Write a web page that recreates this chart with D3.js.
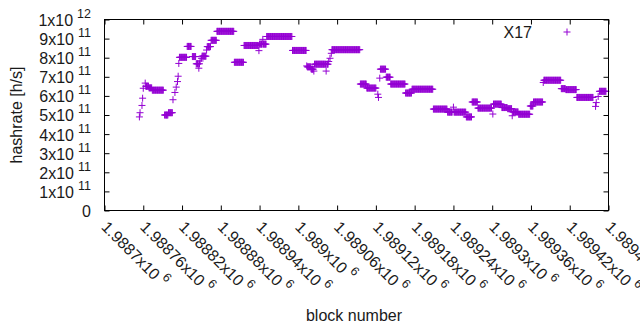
<!DOCTYPE html>
<html lang="en">
<head>
  <title>hashrate X17</title>
  <script src="https://d3js.org/d3.v7.min.js" charset="utf-8"></script>
  <style>
  body { margin: 0; background: #fff; }
  text {
      font-family: "Liberation Sans", Arial, sans-serif;
      font-size: 16px;
      fill: #1a1a1a;
  }
  </style>
</head>
<body>
  <script>
    // runs of blocks with the same hashrate (block numbers, h/s)
    var blockFrom = [1988754, 1988755, 1988758, 1988759, 1988760, 1988763, 1988764, 1988769, 1988774,
      1988793, 1988799, 1988806, 1988809, 1988811, 1988813, 1988814, 1988815, 1988816, 1988828,
      1988836, 1988842, 1988846, 1988847, 1988848, 1988850, 1988851, 1988858, 1988859, 1988865,
      1988874, 1988901, 1988916, 1988939, 1988940, 1988945, 1988946, 1988951, 1988991, 1989013,
      1989014, 1989020, 1989024, 1989025, 1989043, 1989044, 1989047, 1989049, 1989051, 1989052,
      1989096, 1989106, 1989123, 1989124, 1989126, 1989127, 1989136, 1989143, 1989166, 1989176,
      1989209, 1989231, 1989240, 1989241, 1989260, 1989269, 1989278, 1989301, 1989302, 1989315,
      1989324, 1989331, 1989332, 1989341, 1989359, 1989364, 1989379, 1989380, 1989407, 1989414,
      1989431, 1989460, 1989461, 1989464, 1989466];
    var blockTo = [1988754, 1988755, 1988758, 1988759, 1988760, 1988763, 1988768, 1988773, 1988791,
      1988798, 1988805, 1988806, 1988809, 1988811, 1988813, 1988814, 1988815, 1988827, 1988834,
      1988841, 1988845, 1988846, 1988847, 1988848, 1988850, 1988857, 1988858, 1988864, 1988873,
      1988900, 1988915, 1988938, 1988939, 1988944, 1988945, 1988950, 1988990, 1989012, 1989013,
      1989019, 1989023, 1989024, 1989042, 1989043, 1989046, 1989047, 1989049, 1989051, 1989095,
      1989105, 1989120, 1989123, 1989124, 1989126, 1989135, 1989142, 1989165, 1989175, 1989208,
      1989230, 1989238, 1989240, 1989259, 1989268, 1989277, 1989299, 1989301, 1989314, 1989323,
      1989330, 1989331, 1989340, 1989358, 1989363, 1989378, 1989379, 1989406, 1989413, 1989430,
      1989456, 1989460, 1989461, 1989464, 1989476];
    var hashrate = [4.90e11, 5.12e11, 5.50e11, 5.88e11, 6.40e11, 6.67e11, 6.50e11, 6.42e11, 6.30e11,
      5.00e11, 5.12e11, 5.80e11, 6.18e11, 6.46e11, 6.75e11, 7.03e11, 7.70e11, 8.02e11, 8.59e11,
      8.06e11, 7.68e11, 7.45e11, 7.68e11, 7.83e11, 7.97e11, 8.08e11, 8.40e11, 8.58e11, 8.91e11,
      9.38e11, 7.76e11, 8.64e11, 8.37e11, 8.71e11, 8.96e11, 8.71e11, 9.11e11, 8.38e11, 7.57e11,
      7.52e11, 7.40e11, 7.30e11, 7.66e11, 7.30e11, 7.66e11, 7.80e11, 7.97e11, 8.23e11, 8.42e11,
      6.62e11, 6.41e11, 6.09e11, 5.92e11, 6.93e11, 7.40e11, 6.98e11, 6.62e11, 6.15e11, 6.35e11,
      5.31e11, 5.15e11, 5.41e11, 5.15e11, 4.90e11, 5.68e11, 5.36e11, 5.05e11, 5.57e11, 5.39e11,
      5.33e11, 4.96e11, 5.16e11, 5.04e11, 5.47e11, 5.68e11, 6.70e11, 6.82e11, 6.38e11, 6.33e11,
      5.92e11, 5.45e11, 5.65e11, 5.97e11, 6.24e11];

    var xTicks = [1988700, 1988760, 1988820, 1988880, 1988940, 1989000, 1989060,
      1989120, 1989180, 1989240, 1989300, 1989360, 1989420, 1989480];
    var xTickLabels = ["1.9887", "1.98876", "1.98882", "1.98888", "1.98894", "1.989", "1.98906",
      "1.98912", "1.98918", "1.98924", "1.9893", "1.98936", "1.98942", "1.98948"];
    var yTicks = [0, 1e11, 2e11, 3e11, 4e11, 5e11, 6e11, 7e11, 8e11, 9e11, 1e12];
    var yTickMant = ["0", "1", "2", "3", "4", "5", "6", "7", "8", "9", "1"];
    var yTickExp = ["", "11", "11", "11", "11", "11", "11", "11", "11", "11", "12"];
    var seriesName = "X17";

    // one point per block
    var points = [];
    for (var r = 0; r < blockFrom.length; r++) {
      for (var b = blockFrom[r]; b <= blockTo[r]; b++) {
        points.push({ block: b, rate: hashrate[r] });
      }
    }

    var w = 640, h = 330;
    var plotL = 104.5, plotR = 608.5, plotT = 19.5, plotB = 210.5;
    var purple = "#9400d3";
    var cross = "M-3.5,0H3.5M0,-3.5V3.5";

    var x = d3.scaleLinear().domain([1988700, 1989480]).range([plotL, plotR]);
    var y = d3.scaleLinear().domain([0, 1e12]).range([plotB, plotT]);

    var svg = d3.select("body").append("svg")
      .attr("width", w)
      .attr("height", h);

    // points
    svg.append("g").selectAll("path")
      .data(points)
      .enter()
      .append("path")
      .attr("d", cross)
      .attr("transform", function(d) { return "translate(" + x(d.block) + "," + y(d.rate) + ")"; })
      .attr("stroke", purple)
      .attr("stroke-width", 1)
      .attr("fill", "none");

    // y axis + mirrored ticks
    var yAxis = svg.append("g")
      .attr("transform", "translate(" + plotL + ",0)")
      .call(d3.axisLeft(y).tickValues(yTicks).tickSize(-5).tickSizeOuter(0).tickPadding(13.5));
    svg.append("g")
      .attr("transform", "translate(" + plotR + ",0)")
      .call(d3.axisRight(y).tickValues(yTicks).tickSize(-5).tickSizeOuter(0).tickFormat(""));

    yAxis.selectAll(".tick text").each(function(d, i) {
      var t = d3.select(this).text(yTickMant[i]).attr("dy", "0.37em");
      if (yTickExp[i]) {
        t.append("tspan").text("x10");
        t.append("tspan").attr("dx", 4).attr("dy", -8).style("font-size", "12.5px").text(yTickExp[i]);
      }
    });

    // x axis + mirrored ticks
    var xAxis = svg.append("g")
      .attr("transform", "translate(0," + plotB + ")")
      .call(d3.axisBottom(x).tickValues(xTicks).tickSize(-5).tickSizeOuter(0));
    svg.append("g")
      .attr("transform", "translate(0," + plotT + ")")
      .call(d3.axisTop(x).tickValues(xTicks).tickSize(-5).tickSizeOuter(0).tickFormat(""));

    xAxis.selectAll(".tick text").each(function(d, i) {
      var t = d3.select(this)
        .text(xTickLabels[i])
        .attr("x", 0).attr("y", 0).attr("dy", null)
        .attr("text-anchor", "start")
        .attr("transform", "translate(-4.5,17.5) rotate(45)");
      t.append("tspan").text("x10");
      t.append("tspan").attr("dx", 4).attr("dy", -8).style("font-size", "12.5px").text("6");
    });

    svg.selectAll(".domain").remove();
    svg.selectAll(".tick line").attr("stroke", "#000");
    svg.selectAll(".tick text").attr("fill", "#1a1a1a");
    svg.selectAll("g").attr("font-size", null).attr("font-family", null);

    // border
    svg.append("rect")
      .attr("x", plotL).attr("y", plotT)
      .attr("width", plotR - plotL).attr("height", plotB - plotT)
      .attr("fill", "none")
      .attr("stroke", "#000")
      .attr("stroke-width", 1);

    // labels
    svg.append("text")
      .attr("text-anchor", "middle")
      .attr("transform", "translate(22,115) rotate(-90)")
      .text("hashrate [h/s]");
    svg.append("text")
      .attr("text-anchor", "middle")
      .attr("x", 354).attr("y", 321)
      .text("block number");

    // legend
    svg.append("text")
      .attr("text-anchor", "end")
      .attr("x", 532).attr("y", 37.5)
      .text(seriesName);
    svg.append("path")
      .attr("d", cross)
      .attr("transform", "translate(567,32)")
      .attr("stroke", purple)
      .attr("fill", "none");
  </script>
</body>
</html>
